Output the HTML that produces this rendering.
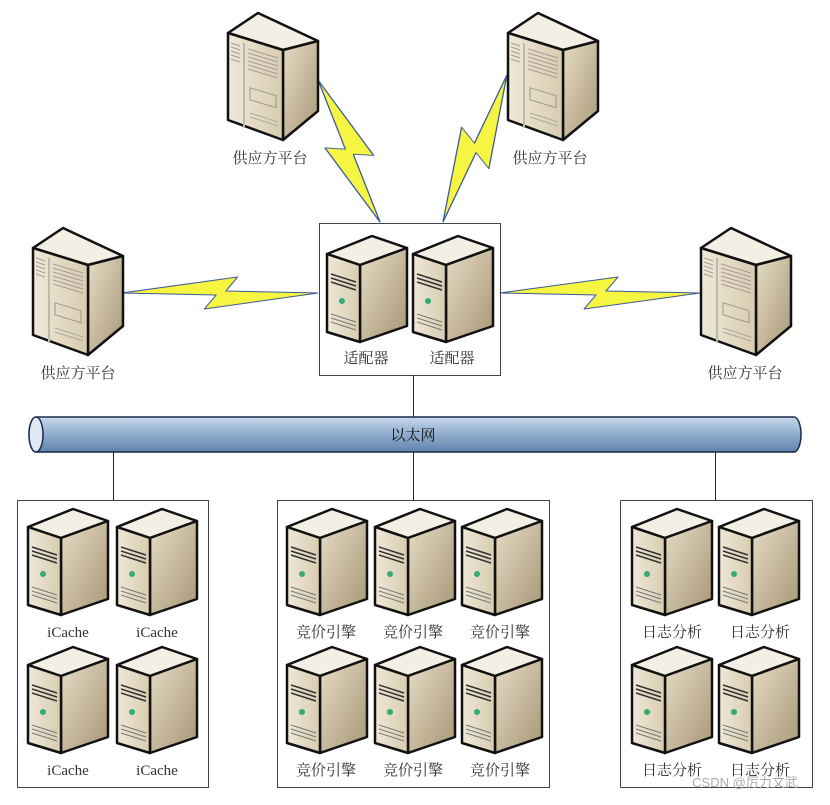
<!DOCTYPE html>
<html><head><meta charset="utf-8"><style>
html,body{margin:0;padding:0;background:#fff;}
svg text{font-family:"Liberation Serif","Noto Serif CJK SC","Noto Sans CJK SC",serif;font-size:15px;fill:#333;text-anchor:middle;}
</style></head><body>
<svg width="830" height="800" viewBox="0 0 830 800" xmlns="http://www.w3.org/2000/svg">
<defs>
<linearGradient id="fr" x1="0" x2="1" y1="0" y2="0"><stop offset="0" stop-color="#efe8d8"/><stop offset="1" stop-color="#d8ccb0"/></linearGradient>
<linearGradient id="sd" x1="0" x2="1" y1="0" y2="1"><stop offset="0" stop-color="#e6dcc6"/><stop offset="1" stop-color="#a89676"/></linearGradient>
<linearGradient id="pipe" x1="0" x2="0" y1="0" y2="1"><stop offset="0" stop-color="#c9d8ea"/><stop offset="0.35" stop-color="#9fb9d6"/><stop offset="1" stop-color="#5f82ad"/></linearGradient>
<g id="srv">
<polygon points="0,20 45,2 80,14 33,31" fill="#f4efe4" stroke="#111" stroke-width="2.5" stroke-linejoin="round"/>
<polygon points="33,31 80,14 80,92 33,108" fill="url(#sd)" stroke="#111" stroke-width="2.5" stroke-linejoin="round"/>
<polygon points="0,20 33,31 33,108 0,98" fill="url(#fr)" stroke="#111" stroke-width="2.5" stroke-linejoin="round"/>
<path d="M4,40 L29,48 M4,44 L29,52 M4,48 L29,56" stroke="#333" stroke-width="1.5"/>
<circle cx="15" cy="67" r="3" fill="#3a7"/>
<path d="M4,80 L29,88 M4,84 L29,92 M4,88 L29,96" stroke="#777" stroke-width="1"/>
</g>
<g id="twr">
<polygon points="0,20 30,0 90,28 55,37" fill="#f4efe4" stroke="#111" stroke-width="2.5" stroke-linejoin="round"/>
<polygon points="55,37 90,28 90,98 55,127" fill="url(#sd)" stroke="#111" stroke-width="2.5" stroke-linejoin="round"/>
<polygon points="0,20 55,37 55,127 0,107" fill="url(#fr)" stroke="#111" stroke-width="2.5" stroke-linejoin="round"/>
<path d="M3,30 L12,33 M3,34 L12,37 M3,38 L12,41 M3,42 L12,45 M3,46 L12,49 M20,36 L50,45 M20,40 L50,49 M20,44 L50,53 M20,48 L50,57 M20,52 L50,61 M20,56 L50,65" stroke="#a99" stroke-width="1"/>
<line x1="16" y1="30" x2="16" y2="115" stroke="#bba" stroke-width="2"/>
<rect x="22" y="68" width="26" height="12" fill="none" stroke="#998" transform="skewY(17)"/>
<path d="M22,100 L50,109 M22,104 L50,113" stroke="#aa9" stroke-width="1"/>
</g>
<polygon id="bolt" points="0,0 59,-8 53,-1 100,0 42,8 48,1" fill="#f5f542" stroke="#3c5a9a" stroke-width="0.5" stroke-linejoin="round"/>
</defs>

<use href="#bolt" transform="translate(122,293) scale(1.96,2)"/>
<use href="#bolt" transform="translate(500,293) scale(2,2)"/>
<use href="#bolt" transform="translate(318,80) rotate(66.4) scale(1.55,2.6)"/>
<use href="#bolt" transform="translate(443,222) rotate(-66.5) scale(1.6,2.6)"/>

<use href="#twr" transform="translate(228,13)"/>
<use href="#twr" transform="translate(508,13)"/>
<use href="#twr" transform="translate(33,228)"/>
<use href="#twr" transform="translate(701,228)"/>
<text x="270" y="163">供应方平台</text>
<text x="550" y="163">供应方平台</text>
<text x="78" y="378">供应方平台</text>
<text x="745" y="378">供应方平台</text>

<rect x="319.5" y="223.5" width="181" height="152" fill="none" stroke="#444" stroke-width="1"/>
<use href="#srv" transform="translate(327,234)"/>
<use href="#srv" transform="translate(413,234)"/>
<text x="366" y="363">适配器</text>
<text x="452" y="363">适配器</text>
<line x1="413.5" y1="375" x2="413.5" y2="418" stroke="#222"/>

<path d="M36,417 L794,417 A7,17.5 0 0 1 794,452 L36,452 A7,17.5 0 0 1 36,417 Z" fill="url(#pipe)" stroke="#1a2a4a" stroke-width="1.5"/>
<ellipse cx="36" cy="434.5" rx="7" ry="17.5" fill="#dfe8f3" stroke="#1a2a4a" stroke-width="1.5"/>
<text x="413" y="440" style="fill:#111">以太网</text>
<line x1="113.5" y1="452" x2="113.5" y2="501" stroke="#222"/>
<line x1="413.5" y1="452" x2="413.5" y2="501" stroke="#222"/>
<line x1="715.5" y1="452" x2="715.5" y2="501" stroke="#222"/>

<rect x="17.5" y="500.5" width="191" height="287" fill="none" stroke="#444"/>
<rect x="277.5" y="500.5" width="272" height="287" fill="none" stroke="#444"/>
<rect x="620.5" y="500.5" width="192" height="287" fill="none" stroke="#444"/>

<use href="#srv" transform="translate(28,507)"/>
<use href="#srv" transform="translate(117,507)"/>
<use href="#srv" transform="translate(28,645)"/>
<use href="#srv" transform="translate(117,645)"/>
<text x="68" y="637">iCache</text><text x="157" y="637">iCache</text>
<text x="68" y="775">iCache</text><text x="157" y="775">iCache</text>

<use href="#srv" transform="translate(287,507)"/>
<use href="#srv" transform="translate(375,507)"/>
<use href="#srv" transform="translate(462,507)"/>
<use href="#srv" transform="translate(287,645)"/>
<use href="#srv" transform="translate(375,645)"/>
<use href="#srv" transform="translate(462,645)"/>
<text x="326" y="637">竞价引擎</text><text x="413" y="637">竞价引擎</text><text x="500" y="637">竞价引擎</text>
<text x="326" y="775">竞价引擎</text><text x="413" y="775">竞价引擎</text><text x="500" y="775">竞价引擎</text>

<use href="#srv" transform="translate(632,507)"/>
<use href="#srv" transform="translate(719,507)"/>
<use href="#srv" transform="translate(632,645)"/>
<use href="#srv" transform="translate(719,645)"/>
<text x="672" y="637">日志分析</text><text x="760" y="637">日志分析</text>
<text x="672" y="775">日志分析</text><text x="760" y="775">日志分析</text>
<text x="745" y="787" style="font-family:'Liberation Sans','Noto Sans CJK SC',sans-serif;font-size:13px;fill:#aaa">CSDN @厉力文武</text>
</svg>
</body></html>
